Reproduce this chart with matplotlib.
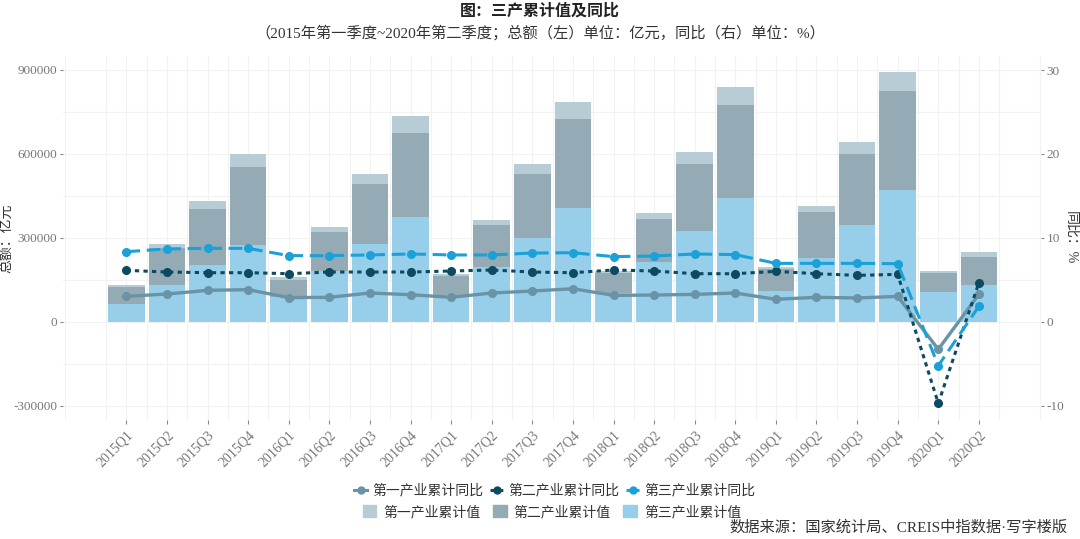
import matplotlib
matplotlib.use("Agg")
import matplotlib.pyplot as plt
import numpy as np
from matplotlib.lines import Line2D
from matplotlib.patches import Patch

plt.rcParams['font.family'] = ['Liberation Serif', 'Noto Sans CJK SC', 'DejaVu Sans']

quarters = ["2015Q1", "2015Q2", "2015Q3", "2015Q4", "2016Q1", "2016Q2", "2016Q3", "2016Q4",
            "2017Q1", "2017Q2", "2017Q3", "2017Q4", "2018Q1", "2018Q2", "2018Q3", "2018Q4",
            "2019Q1", "2019Q2", "2019Q3", "2019Q4", "2020Q1", "2020Q2"]

# cumulative values (亿元)
third_val = [65000, 132000, 202000, 274000, 88000, 183000, 278000, 376000,
             95000, 198000, 300000, 408000, 105000, 214000, 324000, 442000,
             112000, 229000, 348000, 471000, 106000, 132000]
second_val = [59000, 131000, 201000, 281000, 63000, 138000, 214000, 300000,
              69000, 147000, 227000, 317000, 71000, 154000, 240000, 334000,
              76000, 164000, 253000, 355000, 68000, 100000]
first_val = [8000, 15000, 29000, 46000, 9000, 18000, 36000, 60000,
             7000, 19000, 38000, 61000, 7000, 21000, 42000, 63000,
             8000, 21000, 42000, 66000, 8000, 17000]

# year-on-year (%)
first_yoy = [3.05, 3.33, 3.77, 3.85, 2.9, 2.94, 3.45, 3.25, 2.94, 3.45, 3.69, 3.96,
             3.17, 3.21, 3.29, 3.45, 2.7, 2.94, 2.86, 3.05, -3.25, 3.29]
second_yoy = [6.15, 5.95, 5.87, 5.87, 5.75, 5.95, 5.95, 5.95, 6.07, 6.19, 5.95, 5.87,
              6.19, 6.07, 5.75, 5.75, 6.03, 5.75, 5.55, 5.67, -9.68, 4.68]
third_yoy = [8.37, 8.7, 8.77, 8.77, 7.9, 7.9, 7.98, 8.1, 7.98, 7.98, 8.21, 8.25,
             7.78, 7.86, 8.1, 8.02, 6.98, 6.98, 6.98, 6.94, -5.2, 1.87]

left_ticks = [-300000, 0, 300000, 600000, 900000]
right_ticks = [-10, 0, 10, 20, 30]

c_first_bar = '#B7CCD4'
c_second_bar = '#94AAB4'
c_third_bar = '#97CFEA'
c_first_line = '#6A93A6'
c_second_line = '#0D4A60'
c_third_line = '#1BA1D8'
tick_color = '#888888'

fig = plt.figure(figsize=(10.8, 5.39), dpi=100)
ax = fig.add_axes([63/1080, 1-420/539, (1041-63)/1080, (420-56)/539])
ax2 = ax.twinx()

x = np.arange(len(quarters))
third = np.array(third_val)
second = np.array(second_val)
first = np.array(first_val)

ax.bar(x, third, width=0.9, color=c_third_bar, zorder=2)
ax.bar(x, second, width=0.9, bottom=third, color=c_second_bar, zorder=2)
ax.bar(x, first, width=0.9, bottom=third + second, color=c_first_bar, zorder=2)

ymin, ymax = -350000, 950000
ax.set_ylim(ymin, ymax)
ax2.set_ylim(ymin / 30000, ymax / 30000)
ax.set_xlim(-1.56, 22.53)

ax.set_yticks(left_ticks)
ax.set_yticklabels([str(v) for v in left_ticks])
ax.set_yticks(np.arange(-300000, 950001, 150000), minor=True)
ax2.set_yticks(right_ticks)
ax2.set_yticklabels([str(v) for v in right_ticks])

ax.set_xticks(x)
ax.set_xticklabels(quarters, rotation=45, ha='right', rotation_mode='anchor')
ax.set_xticks(np.arange(-1.5, 23, 1.0), minor=True)

ax.grid(True, which='both', color='#F2F2F2', linewidth=0.8, zorder=0)
ax.set_axisbelow(True)

for a in (ax, ax2):
    for s in a.spines.values():
        s.set_visible(False)
ax.tick_params(axis='x', which='major', colors=tick_color, labelsize=10, length=3, width=0.8, pad=3)
ax.tick_params(axis='y', which='major', colors=tick_color, labelsize=9.5, length=2.5, width=0.8, pad=1.5)
ax.tick_params(axis='both', which='minor', length=0)
ax2.tick_params(axis='y', colors=tick_color, labelsize=9.5, length=2.5, width=0.8, pad=1.5)
for lab in ax.get_xticklabels() + ax.get_yticklabels() + ax2.get_yticklabels():
    lab.set_color('#777777')

ax2.plot(x, first_yoy, color=c_first_line, lw=2.4, marker='o', ms=5.5, zorder=5)
ax2.plot(x, second_yoy, color=c_second_line, lw=2.2, linestyle=(0, (1.4, 1.4)),
         marker='o', ms=5.5, zorder=5)
ax2.plot(x, third_yoy, color=c_third_line, lw=2.2, linestyle=(0, (4.5, 2.2)),
         marker='o', ms=5.5, zorder=5)

fig.text(8/1080, 1 - 238/539, '总额：亿元', rotation=90, ha='center', va='center',
         fontsize=10, color='#333333')
fig.text(1071/1080, 1 - 238/539, '同比：%', rotation=-90, ha='center', va='center',
         fontsize=10, color='#333333')

fig.text(0.5, 1 - 12/539, '图：三产累计值及同比', ha='center', va='center',
         fontsize=11.5, fontweight='bold', color='#222222')
fig.text(0.5, 1 - 33/539,
         '（2015年第一季度~2020年第二季度；总额（左）单位：亿元，同比（右）单位：%）',
         ha='center', va='center', fontsize=11, color='#333333')

line_handles = [
    Line2D([0], [0], color=c_first_line, lw=2.2, marker='o', ms=5),
    Line2D([0], [0], color=c_second_line, lw=2.2, linestyle=(0, (1.4, 1.4)), marker='o', ms=5),
    Line2D([0], [0], color=c_third_line, lw=2.2, linestyle=(0, (4.5, 2.2)), marker='o', ms=5),
]
line_labels = ['第一产业累计同比', '第二产业累计同比', '第三产业累计同比']
bar_handles = [Patch(color=c_first_bar), Patch(color=c_second_bar), Patch(color=c_third_bar)]
bar_labels = ['第一产业累计值', '第二产业累计值', '第三产业累计值']

leg1 = fig.legend(line_handles, line_labels, ncol=3, loc='center',
                  bbox_to_anchor=(555/1080, 1 - 491/539), frameon=False,
                  fontsize=10, handlelength=0.9, handletextpad=0.4, columnspacing=0.5,
                  labelcolor='#333333', borderpad=0.1)
leg2 = fig.legend(bar_handles, bar_labels, ncol=3, loc='center',
                  bbox_to_anchor=(552/1080, 1 - 512/539), frameon=False,
                  fontsize=10, handlelength=1.0, handleheight=1.0, handletextpad=0.5,
                  columnspacing=0.9, labelcolor='#333333', borderpad=0.1)

fig.text(1068/1080, 1 - 527/539, '数据来源：国家统计局、CREIS中指数据·写字楼版',
         ha='right', va='center', fontsize=11, color='#333333')

fig.savefig('out.png', dpi=100)
